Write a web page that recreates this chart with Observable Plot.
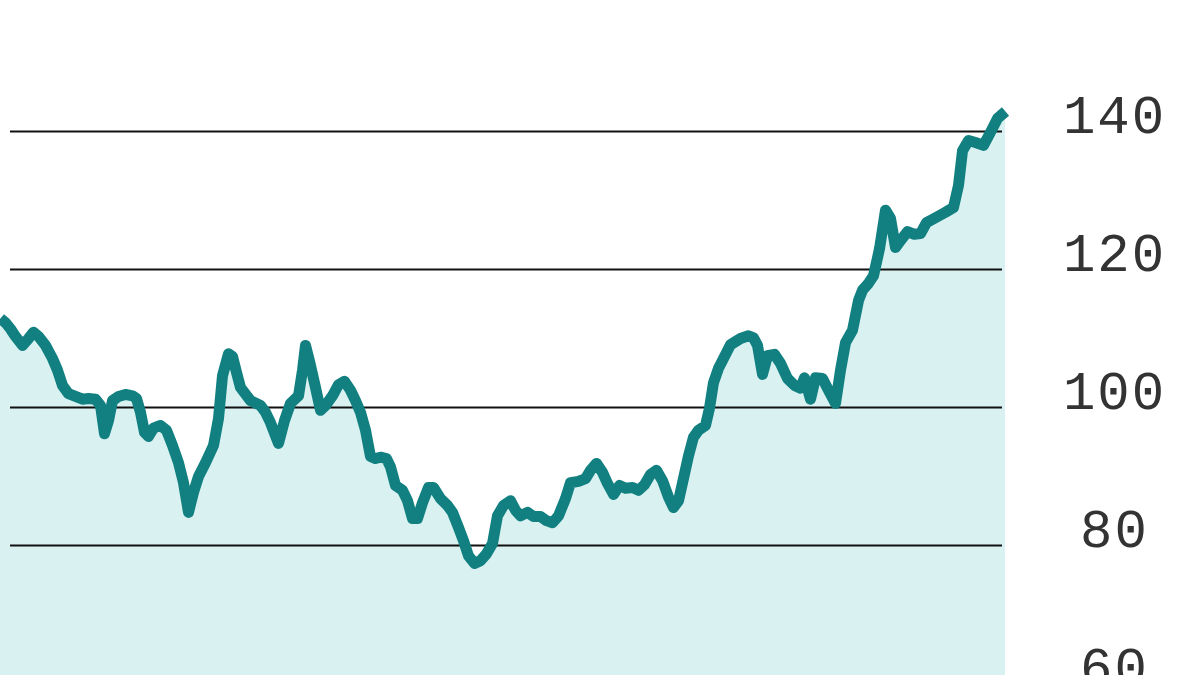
<!DOCTYPE html>
<html>
<head>
<meta charset="utf-8">
<script src="https://cdn.jsdelivr.net/npm/d3@7"></script>
<script src="https://cdn.jsdelivr.net/npm/@observablehq/plot@0.6"></script>
<style>
  html, body { margin: 0; padding: 0; background: #fff; overflow: hidden; }
</style>
</head>
<body>
<div id="chart"></div>
<script>
// Weekly index (time) and index value
const weeks = [
  0,1,2,3,4.4,5.6,6.6,7.6,9,10.4,
  11.4,12.4,13.6,15,16.4,17.6,19,20,20.8,21.6,
  22.4,23.6,25,26.4,27.2,28,28.8,29.6,30.6,32,
  33.2,34.4,35.6,36.6,37.6,38.6,39.6,41,42.6,43.6,
  44.4,45.6,46.4,47.2,48,50,52,53,54,55.6,
  56.8,58,59.6,60.4,61,62,63,64,65,66.4,
  67.6,68.8,70,71,72,73,74,75,76,77.2,
  78,79,80.4,81.4,82.4,83.4,84.4,85.6,86.6,88,
  89.4,90.4,91.6,92.6,93.6,94.8,96,97.2,98.4,99.4,
  100.6,102,103,104,105.4,106.6,108,109.2,110.4,111.6,
  113,114,115.6,117,118,119.2,120.4,121.4,122.6,123.8,
  125,126.4,127.6,128.8,130,131.2,132.4,133.6,134.6,135.6,
  136.6,137.6,138.6,139.6,141,141.8,142.6,143.6,144.6,146,
  148,149.6,150.6,151.4,152.4,153.4,154.8,156,157.4,158.8,
  160,160.8,162,163,164.4,165.6,167,168,169,170.4,
  171.6,172.4,173.6,174.6,175.8,177,178,179,180,181.4,
  182.8,184,185.2,187,189,190.6,191.6,192.4,193.6,195,
  196.6,198,199.4,201
];
const values = [
  112.9,112.3,111.4,110.3,109.0,110.0,110.9,110.3,109.0,107.1,
  105.4,103.2,102.0,101.6,101.2,101.3,101.2,100.3,96.2,98.1,
  101.0,101.6,101.9,101.7,101.3,99.3,96.4,95.8,97.0,97.4,
  96.7,94.5,92.0,89.1,84.8,87.7,90.0,92.0,94.5,98.4,
  104.6,107.8,107.4,105.1,102.9,101.0,100.3,99.3,97.8,94.8,
  98.1,100.6,101.7,105.4,109.0,106.1,102.9,99.6,100.3,101.7,
  103.3,103.8,102.5,101.0,99.3,96.7,92.9,92.6,92.8,92.6,
  91.4,88.7,88.0,86.5,83.9,83.9,86.2,88.4,88.4,86.8,
  85.8,84.8,82.6,80.7,78.5,77.4,77.8,78.8,80.3,84.3,
  85.8,86.5,85.1,84.3,84.8,84.2,84.2,83.6,83.3,84.3,
  86.8,89.1,89.3,89.7,90.9,91.9,90.6,89.0,87.4,88.7,
  88.3,88.4,88.0,88.8,90.3,90.9,89.4,87.0,85.5,86.5,
  89.7,93.0,95.7,96.7,97.4,99.9,103.6,105.7,107.1,109.1,
  110.0,110.4,110.1,109.0,104.8,107.5,107.7,106.4,104.2,103.2,
  102.8,104.3,101.2,104.3,104.2,102.5,100.6,105.4,109.4,111.2,
  115.5,117.0,118.0,119.1,123.0,128.6,127.4,123.2,124.2,125.5,
  125.1,125.2,126.8,127.5,128.3,129.0,132.2,137.2,138.7,138.4,
  138.0,139.9,141.9,142.9
];
const gridValues = [80, 100, 120, 140];
const tickValues = [60, 80, 100, 120, 140, 160];

const data = weeks.map((w, i) => ({week: w, value: values[i]}));

const yDomain = [61.16, 158.99];

const chart = Plot.plot({
  width: 1200,
  height: 675,
  marginLeft: 0,
  marginRight: 195,
  marginTop: 0,
  marginBottom: 0,
  style: {
    fontFamily: "'Liberation Mono', 'DejaVu Sans Mono', monospace",
    background: "#fff",
    overflow: "visible"
  },
  x: {domain: [0, 201], axis: null},
  y: {domain: yDomain, label: null},
  marks: [
    Plot.areaY(data, {x: "week", y1: yDomain[0], y2: "value", fill: "#daf1f2"}),
    Plot.ruleY(gridValues, {x1: 2, x2: 200.4, stroke: "#111", strokeWidth: 2}),
    Plot.lineY(data, {x: "week", y: "value", stroke: "#128080", strokeWidth: 11, strokeLinejoin: "round", strokeLinecap: "butt"}),
    Plot.axisY(tickValues, {
      anchor: "right",
      label: null,
      tickSize: 0,
      tickPadding: 0,
      dx: 109,
      dy: 1,
      textAnchor: "middle",
      lineAnchor: "bottom",
      fontSize: 54,
      fill: "#333"
    })
  ]
});
chart.querySelectorAll("text").forEach(t => t.style.letterSpacing = "2px");
document.getElementById("chart").appendChild(chart);
</script>
</body>
</html>
